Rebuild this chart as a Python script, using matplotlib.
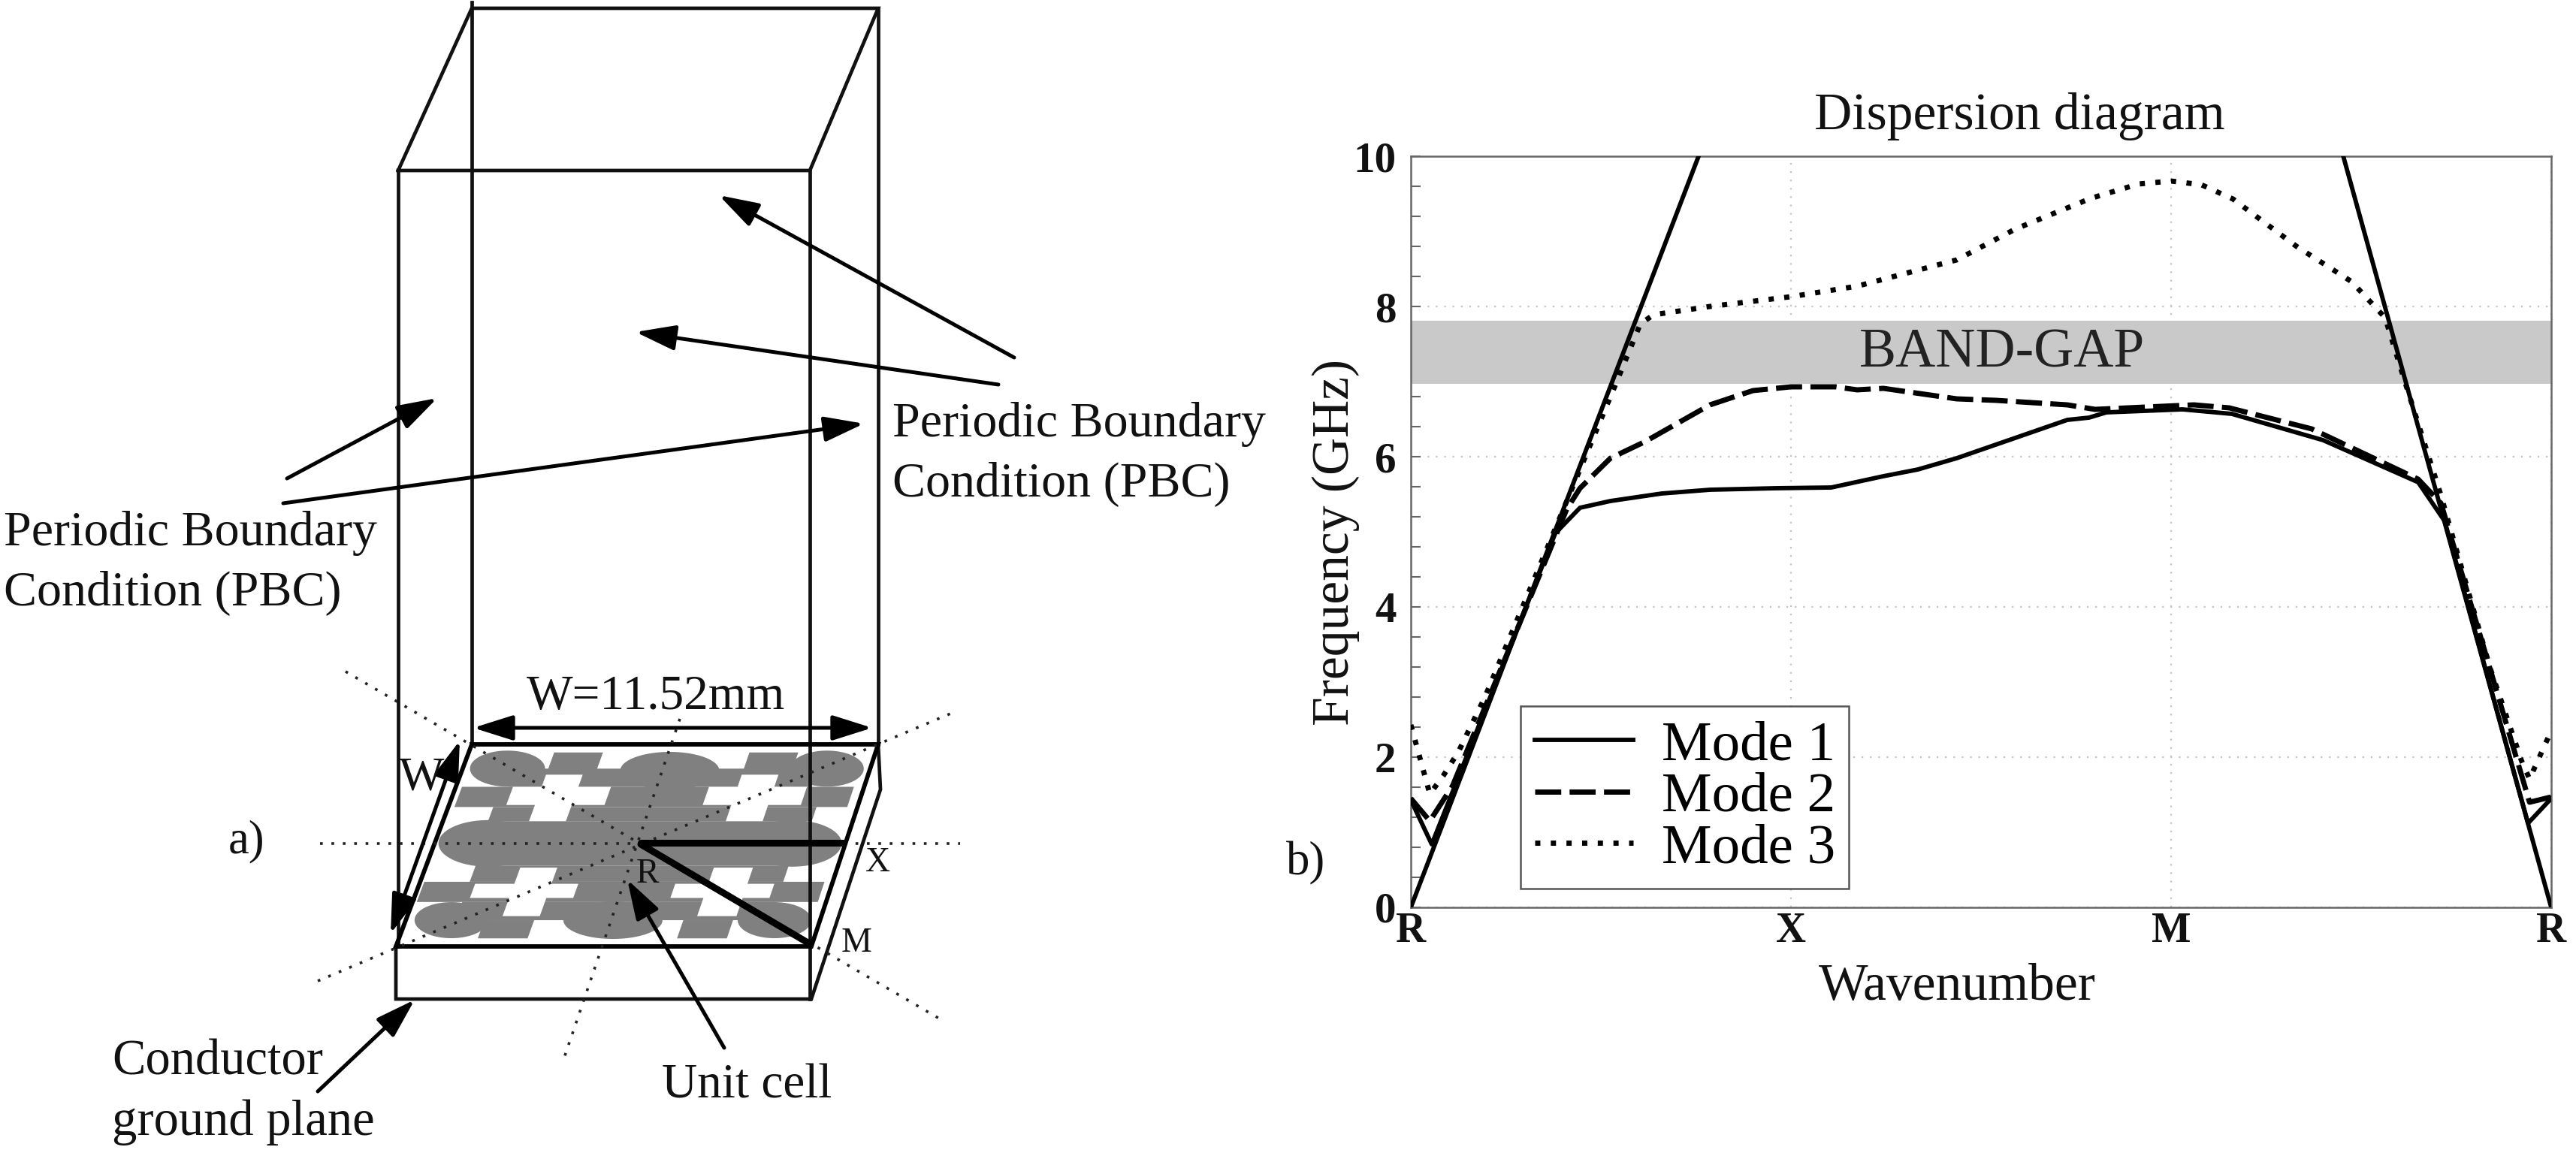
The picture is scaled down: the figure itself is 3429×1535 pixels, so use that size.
import numpy as np
import matplotlib
matplotlib.use('Agg')
import matplotlib.pyplot as plt
from matplotlib.patches import FancyArrowPatch, Polygon
from matplotlib.ticker import MultipleLocator

plt.rcParams['font.family'] = ['Liberation Serif', 'DejaVu Serif']

# Dispersion diagram data (x: 0=R, 1=X, 2=M, 3=R)
wave_ticks = [0, 1, 2, 3]
wave_labels = ['R', 'X', 'M', 'R']
freq_ticks = [0, 2, 4, 6, 8, 10]
gap_low, gap_high = 6.97, 7.81

light_left_x = [0, 0.757]
light_left_y = [0, 10]
light_right_x = [2.453, 3]
light_right_y = [10, 0]

mode1_x = [0, 0.055, 0.38, 0.445, 0.525, 0.66, 0.787, 0.958, 1.106, 1.243, 1.334, 1.436,
           1.727, 1.784, 1.83, 2.03, 2.16, 2.40, 2.65, 2.72, 2.939, 3]
mode1_y = [1.43, 0.84, 4.98, 5.32, 5.41, 5.51, 5.56, 5.58, 5.59, 5.74, 5.83, 5.98,
           6.49, 6.52, 6.59, 6.63, 6.57, 6.22, 5.66, 5.14, 1.12, 1.45]

mode2_x = [0, 0.05, 0.11, 0.41, 0.445, 0.525, 0.616, 0.787, 0.90, 1, 1.117, 1.174, 1.243, 1.436,
           1.54, 1.727, 1.8, 2.06, 2.153, 2.37, 2.65, 2.71, 2.943, 3]
mode2_y = [1.45, 1.15, 1.62, 5.3, 5.58, 5.98, 6.2, 6.69, 6.88, 6.93, 6.93, 6.89, 6.91, 6.77,
           6.75, 6.69, 6.63, 6.69, 6.65, 6.37, 5.70, 5.38, 1.4, 1.47]

mode3_x = [0, 0.05, 0.085, 0.125, 0.194, 0.388, 0.536, 0.604, 0.639, 0.787, 1, 1.174, 1.436,
           1.59, 1.789, 1.914, 2, 2.08, 2.163, 2.33, 2.475, 2.563, 2.615, 2.709, 2.839, 2.922, 2.943, 3]
mode3_y = [2.43, 1.51, 1.75, 2.07, 2.79, 5.14, 6.93, 7.77, 7.89, 8.0, 8.13, 8.27, 8.62,
           9.03, 9.44, 9.63, 9.67, 9.62, 9.43, 8.8, 8.33, 7.85, 7.0, 5.5, 3.19, 1.95, 1.71, 2.35]

# Schematic geometry, in picture pixels
box_lines = [
    [(530, 227), (1078, 227), (1169, 11), (628, 11), (530, 227)],
    [(530, 227), (530, 1260)],
    [(628, 3), (628, 991)],
    [(1078, 227), (1078, 1330)],
    [(1169, 11), (1169, 991)],
    [(527, 1260), (527, 1330), (1080, 1330), (1172, 1051), (1169, 991)],
]
plate_outline = [(628, 991), (1169, 991), (1080, 1260), (527, 1260), (628, 991)]
dotted_lines = [
    [(426, 1123), (1278, 1123)],
    [(460, 894), (1252, 1357)],
    [(423, 1306), (1270, 948)],
    [(905, 957), (750, 1411)],
]
thick_lines = [[(853, 1122), (1123, 1122)], [(853, 1124), (1077, 1256)]]
single_arrows = [
    [(1350, 476), (957, 260)],
    [(1329, 512), (846, 442)],
    [(382, 637), (582, 530)],
    [(377, 670), (1150, 564)],
    [(964, 1395), (835, 1171)],
    [(423, 1453), (552, 1331)],
]
double_arrows = [[(630, 969), (1161, 969)], [(612, 986), (520, 1243)]]

# Unit cell pattern, fractions along the plate edges (u across, v back to front)
cell_rows = [
    (.21, .33, .04, .13), (.69, .81, .04, .13),
    (.13, .87, .12, .21), (.015, .975, .21, .31), (.11, .90, .31, .38),
    (.12, .88, .38, .60), (.12, .88, .60, .68), (.01, .98, .68, .78),
    (.12, .88, .78, .87), (.19, .31, .87, .96), (.67, .79, .87, .96),
]
# centre u, centre v, then half width and half height in pixels
cell_ellipses = [
    (.11, .12, 50, 24), (.51, .13, 66, 25), (.894, .12, 49, 24),
    (.13, .49, 66, 31), (.87, .49, 66, 31),
    (.11, .87, 49, 24), (.50, .87, 66, 25), (.89, .87, 49, 24),
]
cell_holes = [
    (.14, .38, .21, .30), (.21, .30, .15, .38),
    (.62, .86, .21, .30), (.69, .78, .15, .38),
    (.135, .385, .69, .76), (.23, .32, .61, .85),
    (.62, .86, .69, .76), (.70, .795, .61, .85),
]

labels = [
    (1188, 565, 'Periodic Boundary', 47.5, 'left'),
    (1188, 645, 'Condition (PBC)', 47.5, 'left'),
    (5, 710, 'Periodic Boundary', 47.5, 'left'),
    (5, 790, 'Condition (PBC)', 47.5, 'left'),
    (873, 928, 'W=11.52mm', 47, 'center'),
    (561, 1036, 'W', 46, 'center'),
    (862, 1164, 'R', 33, 'center'),
    (1169, 1149, 'X', 33, 'center'),
    (1140, 1256, 'M', 33, 'center'),
    (994, 1446, 'Unit cell', 47, 'center'),
    (149, 1414, 'Conductor', 48, 'left'),
    (149, 1494, 'ground plane', 48, 'left'),
    (328, 1120, 'a)', 45, 'center'),
    (1738, 1149, 'b)', 45, 'center'),
]

W, H = 3430, 1535
fig = plt.figure(figsize=(W / 100, H / 100), dpi=100)

# Left: the schematic, on an axes that covers the whole picture
sk = fig.add_axes([0, 0, 1, 1])
sk.set_xlim(0, W)
sk.set_ylim(H, 0)
sk.axis('off')


def plate_point(u, v):
    top = np.array([628 + 541 * u, 991.0])
    bottom = np.array([527 + 553 * u, 1260.0])
    return top + (bottom - top) * v


def plate_rect(u0, u1, v0, v1, color, z):
    corners = [plate_point(u0, v0), plate_point(u1, v0), plate_point(u1, v1), plate_point(u0, v1)]
    sk.add_patch(Polygon(corners, closed=True, facecolor=color, edgecolor='none', zorder=z))


for u0, u1, v0, v1 in cell_rows:
    plate_rect(u0, u1, v0, v1, '#808080', 1)
for cu, cv, rx, ry in cell_ellipses:
    t = np.linspace(0, 2 * np.pi, 60)
    cx, cy = plate_point(cu, cv)
    sk.add_patch(Polygon(np.column_stack([cx + rx * np.cos(t), cy + ry * np.sin(t)]), closed=True,
                         facecolor='#808080', edgecolor='none', zorder=1))
for u0, u1, v0, v1 in cell_holes:
    plate_rect(u0, u1, v0, v1, 'white', 2)

for line in box_lines:
    xs, ys = zip(*line)
    sk.plot(xs, ys, color='#111111', lw=3.4, solid_joinstyle='miter', zorder=3)
xs, ys = zip(*plate_outline)
sk.plot(xs, ys, color='black', lw=4.2, solid_joinstyle='miter', zorder=3)
for line in dotted_lines:
    xs, ys = zip(*line)
    sk.plot(xs, ys, color='#222222', lw=2.6, linestyle=(0, (1, 3.2)), zorder=4)
for line in thick_lines:
    xs, ys = zip(*line)
    sk.plot(xs, ys, color='black', lw=6.5, solid_capstyle='round', zorder=5)

for start, end in single_arrows:
    sk.add_patch(FancyArrowPatch(start, end, arrowstyle='-|>,head_length=0.95,head_width=0.3',
                                 mutation_scale=34, lw=3.6, color='black',
                                 shrinkA=0, shrinkB=0, zorder=6))
for start, end in double_arrows:
    sk.add_patch(FancyArrowPatch(start, end, arrowstyle='<|-|>,head_length=0.95,head_width=0.3',
                                 mutation_scale=34, lw=3.6, color='black',
                                 shrinkA=0, shrinkB=0, zorder=6))

for x, y, text, size, ha in labels:
    sk.text(x, y, text, fontsize=size, ha=ha, va='center', color='#111111', zorder=7)

# Right: the dispersion diagram
ax = fig.add_axes([1878 / W, 1 - 1208 / H, 1518 / W, 1000 / H])
ax.patch.set_alpha(0)
ax.set_xlim(0, 3)
ax.set_ylim(0, 10)
ax.axhspan(gap_low, gap_high, color='#c9c9c9', lw=0, zorder=1)
ax.grid(True, which='major', color='#c4c4c4', lw=1.6, linestyle=(0, (1, 4)), zorder=2)
ax.set_axisbelow(True)

ax.plot(light_left_x, light_left_y, color='black', lw=4.2, zorder=4)
ax.plot(light_right_x, light_right_y, color='black', lw=4.2, zorder=4)
ax.plot(mode1_x, mode1_y, color='black', lw=4.2, label='Mode 1', zorder=4)
ax.plot(mode2_x, mode2_y, color='black', lw=5, linestyle=(0, (5, 1.6)), label='Mode 2', zorder=4)
ax.plot(mode3_x, mode3_y, color='black', lw=5, linestyle=(0, (1, 2)), label='Mode 3', zorder=3)

ax.set_xticks(wave_ticks)
ax.set_xticklabels(wave_labels, fontsize=40, fontweight='bold', color='#111111')
ax.set_yticks(freq_ticks)
ax.set_yticklabels([str(v) for v in freq_ticks], fontsize=41, fontweight='bold', color='#111111')
ax.yaxis.set_minor_locator(MultipleLocator(0.4))
ax.tick_params(axis='x', length=0, pad=4)
ax.tick_params(axis='y', which='both', direction='in', length=9, width=1.5, color='#666666', pad=14)
for spine in ax.spines.values():
    spine.set_color('#666666')
    spine.set_linewidth(1.8)

ax.text(1.556, 7.37, 'BAND-GAP', fontsize=53, ha='center', va='center', color='#222222', zorder=5)
fig.text(2688 / W, 1 - 155 / H, 'Dispersion diagram', fontsize=50, ha='center', va='center', color='#111111')
fig.text(2605 / W, 1 - 1314 / H, 'Wavenumber', fontsize=50, ha='center', va='center', color='#111111')
fig.text(1778 / W, 1 - 722 / H, 'Frequency (GHz)', fontsize=50, rotation=90, ha='center', va='center', color='#111111')

handles, names = ax.get_legend_handles_labels()
leg = ax.legend(handles, names, loc='lower left', bbox_to_anchor=(146 / 1518, 25 / 1000), fontsize=54,
                fancybox=False, framealpha=1, edgecolor='#555555', handlelength=1.75, handletextpad=0.5,
                labelspacing=0.0, borderpad=0.25, borderaxespad=0)
leg.get_frame().set_linewidth(1.8)
leg.set_zorder(6)

fig.savefig('out.png', dpi=100, facecolor='white')
